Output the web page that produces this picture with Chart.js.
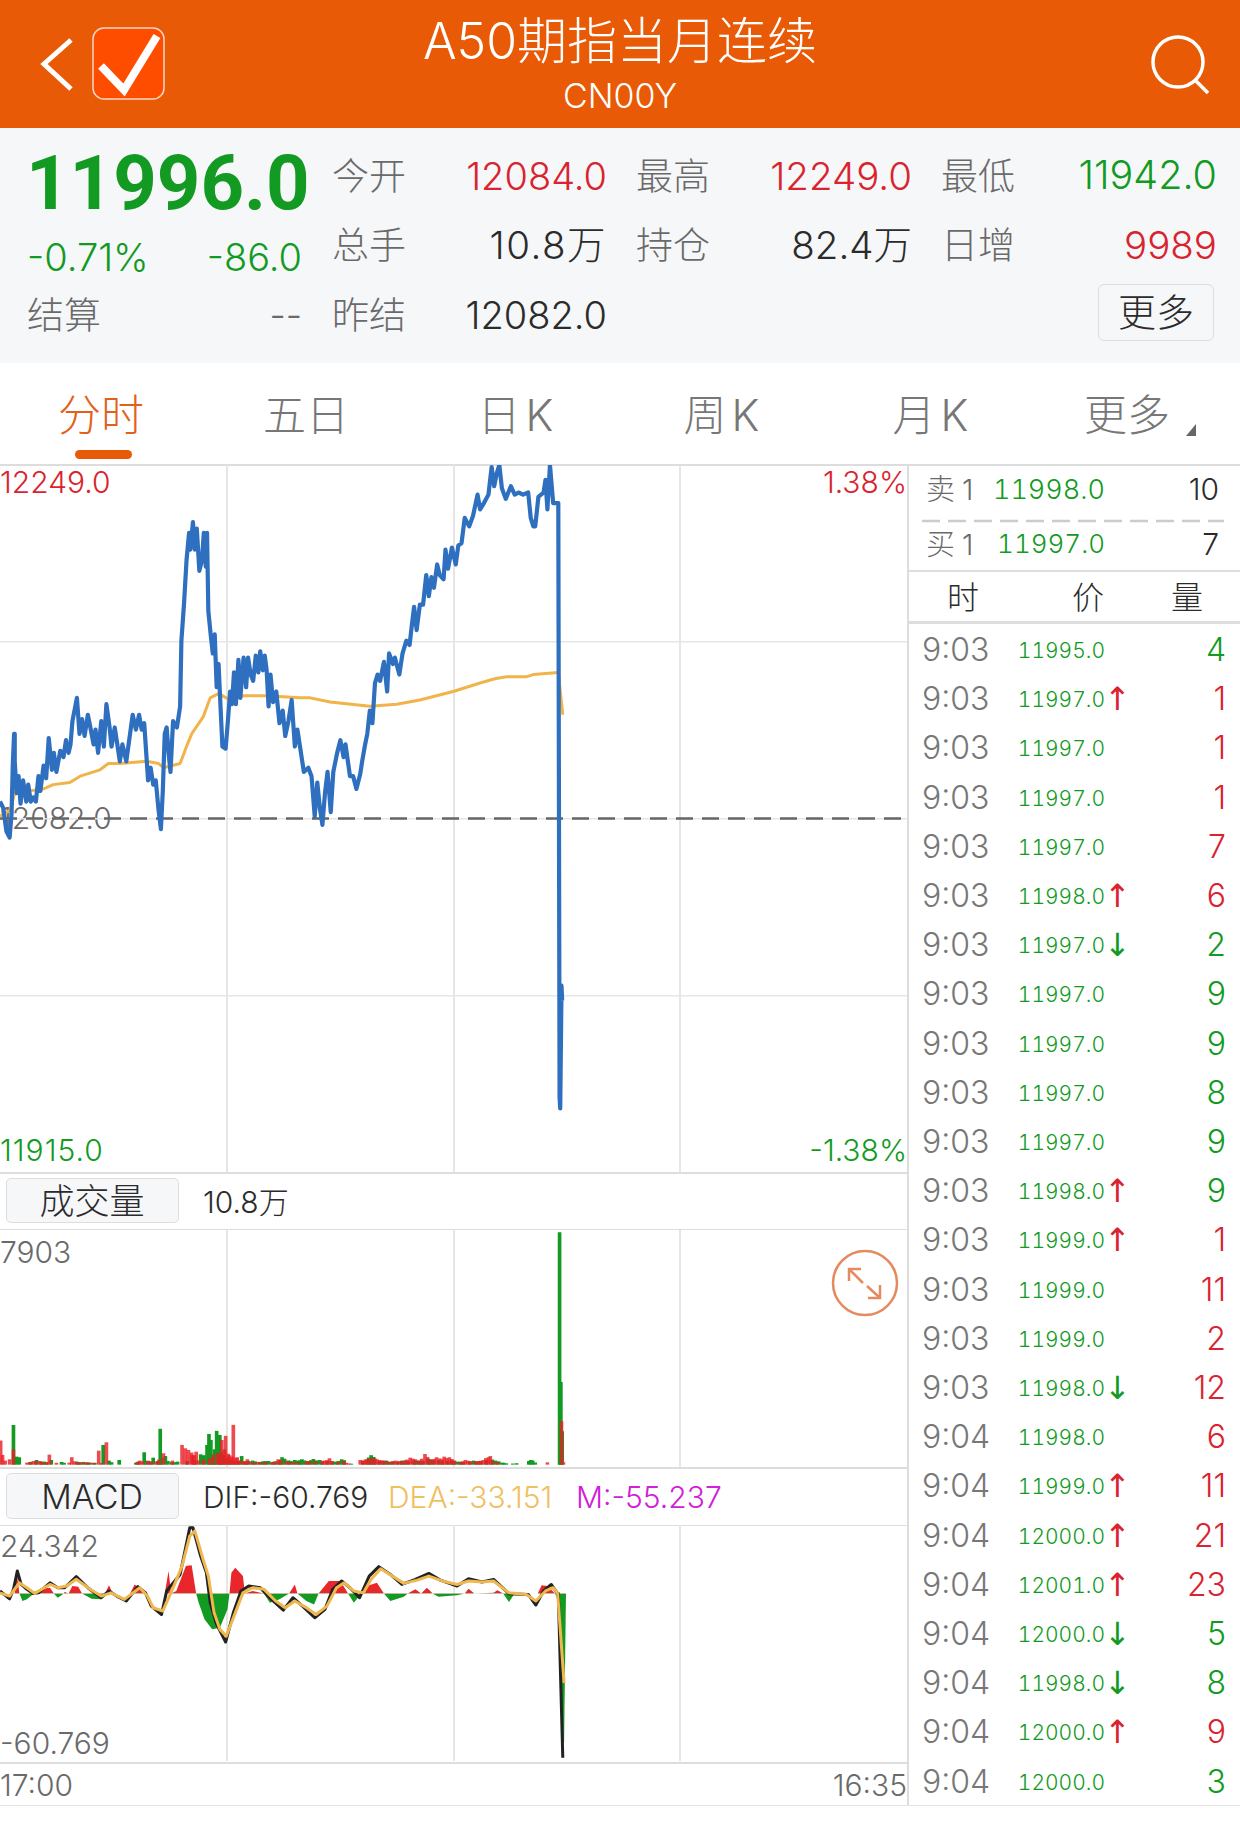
<!DOCTYPE html>
<html>
<head>
<meta charset="utf-8">
<title>A50期指当月连续</title>
<script src="https://cdn.jsdelivr.net/npm/chart.js@4/dist/chart.umd.min.js"></script>
<style>
  html, body { margin: 0; padding: 0; background: #fff; }
  #page { position: relative; width: 1240px; height: 1828px; overflow: hidden; background: #fff;
    font-family: Inter, "Noto Sans CJK SC", sans-serif; font-weight: 300; }
  #page span { position: absolute; white-space: nowrap; transform: translateY(-50%); line-height: 1; }
  .box { position: absolute; box-sizing: border-box; }
  canvas { position: absolute; display: block; }
  svg { position: absolute; left: 0; top: 0; }
</style>
</head>
<body>
<div id="page">
  <div class="box" style="left:0;top:0;width:1240px;height:128px;background:#E85A06"></div>
  <div class="box" style="left:0;top:128px;width:1240px;height:235px;background:#F6F7F9"></div>
  <div class="box" style="left:1098px;top:284px;width:116px;height:57px;border:1.5px solid #DDD;border-radius:6px"></div>
  <div class="box" style="left:75px;top:450px;width:57px;height:9px;background:#E85A06;border-radius:5px"></div>
  <div class="box" style="left:0;top:464px;width:1240px;height:2px;background:#DDD"></div>
  <div class="box" style="left:0;top:1172px;width:907px;height:2px;background:#DDD"></div>
  <div class="box" style="left:0;top:1229px;width:907px;height:1px;background:#DDD"></div>
  <div class="box" style="left:0;top:1467px;width:907px;height:2px;background:#DDD"></div>
  <div class="box" style="left:0;top:1525px;width:907px;height:1px;background:#DDD"></div>
  <div class="box" style="left:0;top:1762px;width:907px;height:2px;background:#DDD"></div>
  <div class="box" style="left:0;top:1805px;width:1240px;height:1px;background:#E4E4E4"></div>
  <div class="box" style="left:907px;top:465px;width:1.5px;height:1340px;background:#DDD"></div>
  <div class="box" style="left:908px;top:570px;width:332px;height:2px;background:#DDD"></div>
  <div class="box" style="left:908px;top:621px;width:332px;height:3px;background:#DDD"></div>
  <div class="box" style="left:6px;top:1178px;width:173px;height:45px;background:#F6F7F9;border:1.5px solid #DDD;border-radius:5px"></div>
  <div class="box" style="left:6px;top:1473px;width:173px;height:46px;background:#F6F7F9;border:1.5px solid #DDD;border-radius:5px"></div>
  <svg width="1240" height="1828" fill="none">
    <polyline points="71,40 44,64 71,89" stroke="#fff" stroke-width="5"/>
    <rect x="93" y="28" width="71" height="71" rx="11" fill="#FF4D00" stroke="#F8D8C4" stroke-width="1.5"/>
    <polyline points="101,66 124,90 157,36" stroke="#fff" stroke-width="8"/>
    <circle cx="1178" cy="62" r="25" stroke="#fff" stroke-width="3.5"/>
    <line x1="1195" y1="80" x2="1208" y2="93" stroke="#fff" stroke-width="3.5"/>
    <line x1="922" y1="521" x2="1224" y2="521" stroke="#CCC" stroke-width="2.5" stroke-dasharray="18 8"/>
    <polygon points="1186,436 1196,424 1196,436" fill="#666"/>
    <circle cx="865" cy="1283" r="32" stroke="#E58A5F" stroke-width="2.5" fill="#fff"/>
    <polyline points="849,1281 849,1269 861,1269" stroke="#E58A5F" stroke-width="2.5"/>
    <line x1="850" y1="1270" x2="863" y2="1283" stroke="#E58A5F" stroke-width="2.5"/>
    <polyline points="880,1285 880,1298 868,1298" stroke="#E58A5F" stroke-width="2.5"/>
    <line x1="879" y1="1297" x2="867" y2="1286" stroke="#E58A5F" stroke-width="2.5"/>
  </svg>
  <canvas id="priceChart" width="907" height="707" style="left:0;top:465px"></canvas>
  <canvas id="volumeChart" width="907" height="237" style="left:0;top:1230px"></canvas>
  <canvas id="macdChart" width="907" height="236" style="left:0;top:1525px"></canvas>
</div>
<script>
// minutes since 17:00, session is 17:00 -> 16:35
const SESSION_MINUTES = 1415;
const gridMinutes = [353.75, 707.5, 1061.25];
const priceGrid = [11998.5, 12082, 12165.5];
const PREV_SETTLE = 12082;

const priceMinutes = [0,5,10,15,18,20,22,23,26,29,32,36,41,44,48,52,56,60,63,68,72,76,81,84,88,94,99,103,107,110,113,120,124,128,132,137,141,146,149,153,158,162,166,171,174,179,183,187,191,197,202,207,212,217,221,225,229,231,235,239,243,247,251,254,257,260,263,266,270,276,281,283,287,291,295,297,301,304,307,311,315,318,321,323,325,329,332,335,338,341,344,347,352,355,359,362,365,368,372,375,380,384,387,391,395,399,403,406,410,413,416,419,422,426,431,436,441,445,450,455,460,464,468,474,481,486,491,495,499,503,507,511,516,520,526,531,536,539,546,551,556,562,565,569,573,577,581,585,589,593,599,604,607,613,616,623,628,634,639,642,646,650,655,660,665,669,673,677,682,686,692,695,699,705,711,715,720,725,732,738,745,749,755,762,767,771,775,779,783,789,797,803,809,816,824,828,832,835,840,848,851,854,858,863,871,873,874,876,877];
const priceValues = [12090,12087,12076,12073,12084,12108,12122,12109,12094,12102,12089,12100,12090,12098,12090,12092,12090,12102,12095,12107,12101,12120,12105,12113,12104,12114,12111,12119,12113,12117,12128,12139,12122,12129,12121,12131,12125,12117,12124,12113,12128,12116,12136,12125,12116,12125,12117,12109,12117,12109,12120,12131,12124,12131,12124,12127,12109,12100,12106,12098,12100,12087,12077,12095,12122,12125,12113,12104,12128,12125,12135,12166,12183,12204,12217,12209,12222,12209,12219,12199,12204,12217,12201,12217,12180,12168,12160,12169,12144,12155,12135,12116,12115,12126,12142,12136,12151,12136,12157,12139,12158,12144,12158,12150,12147,12159,12151,12161,12152,12159,12152,12135,12150,12137,12142,12127,12133,12121,12128,12138,12116,12124,12116,12104,12106,12102,12083,12099,12087,12079,12094,12104,12085,12104,12113,12119,12111,12117,12102,12102,12096,12103,12109,12116,12122,12133,12127,12146,12150,12147,12156,12142,12160,12155,12158,12150,12160,12166,12164,12172,12182,12171,12183,12183,12197,12187,12196,12191,12202,12197,12195,12209,12200,12210,12202,12211,12212,12224,12220,12225,12235,12228,12231,12235,12248,12239,12245,12249,12238,12233,12239,12235,12236,12235,12236,12224,12220,12220,12234,12236,12242,12228,12249,12231,12231,11950,11945,12003,11996];

const avgMinutes = [0,16,23,68,83,109,125,156,169,187,229,247,255,281,291,299,317,328,341,359,380,416,468,484,515,577,619,655,707,749,772,790,822,832,871,878];
const avgValues = [12083,12086,12094,12096,12098,12099,12102,12105,12108,12108,12109,12108,12106,12108,12116,12122,12130,12139,12141,12138,12140,12140,12139,12139,12137,12135,12136,12138,12142,12146,12148,12149,12149,12150,12151,12131];

const redVolMinutes = [1,4,8,15,21,42,46,52,56,62,66,73,77,88,108,112,116,122,127,134,138,146,154,158,166,214,218,222,231,236,244,248,255,269,284,289,294,299,300,303,306,310,318,327,333,340,343,346,350,352,356,358,362,364,368,370,374,380,382,386,392,398,403,409,415,424,428,434,438,447,452,458,466,478,483,492,503,507,510,514,518,527,536,540,544,562,566,570,572,576,581,585,588,592,596,600,606,612,617,622,626,632,635,640,644,648,654,658,663,667,672,677,681,686,690,693,697,701,705,709,718,722,726,730,734,742,746,750,754,758,762,765,769,776,854,876,879];
const redVolValues = [800,310,115,160,500,45,60,100,90,100,70,60,320,40,45,230,90,60,55,55,50,40,455,40,740,70,115,90,115,80,80,150,365,115,650,535,480,390,300,300,420,120,150,200,330,380,300,820,500,960,350,300,250,1335,200,230,120,100,80,160,60,50,70,40,60,50,80,160,130,100,60,60,60,80,100,100,110,115,130,195,100,60,100,40,20,135,120,150,160,180,200,190,160,130,120,110,80,90,115,100,90,130,150,215,180,160,120,180,340,240,150,170,230,190,160,250,200,230,170,120,60,90,135,110,90,80,100,110,135,200,230,270,100,60,55,1460,60];

const greenVolMinutes = [21,26,30,48,57,64,69,72,80,96,100,120,124,130,136,141,148,161,170,174,186,212,216,225,228,234,239,246,250,252,258,262,268,272,277,292,304,313,318,323,326,329,332,335,338,343,345,349,355,360,366,372,377,384,388,394,398,405,410,414,419,425,430,436,440,444,450,454,460,464,468,471,475,480,485,489,494,499,503,511,518,523,528,533,537,548,566,575,579,583,592,598,603,608,613,620,627,630,637,646,650,655,660,668,671,676,684,690,698,704,708,713,718,723,733,739,744,750,759,768,773,778,783,786,790,800,806,825,828,831,835,873,875,877];
const greenVolValues = [1330,250,230,70,135,80,80,60,135,70,40,80,60,70,50,45,40,650,115,60,135,40,80,400,100,90,215,100,1200,200,270,100,60,60,80,100,120,330,300,650,1025,820,250,500,1130,990,400,300,200,150,90,110,270,90,100,115,90,70,90,100,100,70,90,120,230,180,120,100,135,110,130,160,120,100,130,170,120,135,80,100,90,80,100,160,130,10,100,220,300,240,110,110,115,70,90,70,115,90,100,120,115,110,100,180,160,130,130,110,100,120,100,80,80,70,90,115,90,90,130,150,115,90,45,40,20,15,25,100,135,120,50,7903,2800,1117];

const difMinutes = [0,15,21,27,33,42,51,60,78,90,101,119,137,158,170,182,197,215,227,236,252,260,281,296,301,313,322,328,337,352,364,376,388,406,418,442,457,472,491,507,519,533,546,561,576,591,609,627,648,669,687,713,731,752,770,794,824,836,848,860,869,871,878];
const difValues = [0.9,-2,1.5,8.3,3.3,1.5,0,0.2,3.9,2.1,2.1,6.2,2.1,-1.6,0.9,-1,-2.8,2.5,0.2,-4.7,-7.8,0.9,7,24.3,24.3,13.8,7.6,-3.5,-10.9,-18,-7.2,0.9,2.7,2.1,-1,-6.2,-1.6,-4.7,-9,-5.9,1.5,4.6,2.1,-1.6,6.4,9.9,7,3.3,5.2,7.4,4.9,2.7,5.4,4.2,5.2,-0.1,-0.4,-4.3,0.9,3.3,0.2,0,-60.769];

const deaMinutes = [0,15,30,42,54,78,90,104,119,137,158,173,194,218,230,239,254,269,284,296,304,316,325,334,343,353,367,379,394,412,430,445,460,478,493,510,525,537,552,567,579,594,612,630,651,669,690,713,731,752,770,794,821,836,851,863,870,880];
const deaValues = [0.2,-1,3.9,2.1,0,3.3,2.1,2.7,5.2,2.1,-1,0.2,-2.2,2.1,-1,-5.3,-6.5,1.5,10.1,21.2,23.1,13.2,6.4,-7.2,-13.3,-15.8,-7.2,0.2,2.1,1.5,-2.8,-5.3,-2.8,-5.3,-7.8,-4.7,2.1,3.9,0.9,0.2,5.2,9.1,6.4,3.7,4.9,6.4,4.6,3.3,4.6,4.2,4.6,0.2,-0.4,-2.8,0.9,2.1,0,-33.151];

const mMinutes = [0,23,26,30,35,42,51,60,63,78,84,90,96,101,107,113,122,128,143,158,164,170,176,203,210,224,230,257,263,267,275,290,299,306,310,319,331,343,355,358,361,367,379,382,394,412,421,436,451,460,464,478,490,497,513,531,543,552,564,576,588,599,609,630,636,648,657,666,675,684,713,725,731,740,770,776,785,794,803,839,845,854,866,871,878,880,883];
const mValues = [0,0,8.3,0.2,-2.8,-2.2,-0.4,0,1.7,2.1,0,-1.6,-0.7,0.5,0,2.7,2.5,0,-2,-2.2,0,3,0,0,3.3,0.9,0,0,8.3,0,0.9,10.1,10.4,0,-3.5,-9.6,-13.3,-12.7,-5.9,0,7.6,9.5,6.4,0,0.9,0,-3.5,-2.2,0,3.3,0,-2.8,-4.1,0,4.6,4.6,0,-3.5,0,3,3.9,0,-2.8,-1.2,0,1.5,0,2.1,0,-1.2,-0.7,0,1.7,0,0.2,1.2,0,-3.2,0,0,3,2.7,0,-3,-55.237,-55.237,0];

const tradeTimes = ['9:03','9:03','9:03','9:03','9:03','9:03','9:03','9:03','9:03','9:03','9:03','9:03','9:03','9:03','9:03','9:03','9:04','9:04','9:04','9:04','9:04','9:04','9:04','9:04'];
const tradePrices = ['11995.0','11997.0','11997.0','11997.0','11997.0','11998.0','11997.0','11997.0','11997.0','11997.0','11997.0','11998.0','11999.0','11999.0','11999.0','11998.0','11998.0','11999.0','12000.0','12001.0','12000.0','11998.0','12000.0','12000.0'];
const tradeArrows = ['','↑','','','','↑','↓','','','','','↑','↑','','','↓','','↑','↑','↑','↓','↓','↑',''];
const tradeQtys = [4,1,1,1,7,6,2,9,9,8,9,9,1,11,2,12,6,11,21,23,5,8,9,3];
const tradeSides = ['g','r','r','r','r','r','g','g','g','g','g','g','r','r','r','r','r','r','r','r','g','g','r','g'];

const RED = '#D9232E';
const GREEN = '#129A22';
const GRAY = '#6A6A6A';
const DARK = '#2B2B2B';

const page = document.getElementById('page');
const label = (text, x, cy, size, color, align, weight) => {
  const el = document.createElement('span');
  el.textContent = text;
  if (align === 'right') el.style.right = (1240 - x) + 'px';
  else if (align === 'center') { el.style.left = x + 'px'; el.style.transform = 'translate(-50%,-50%)'; }
  else el.style.left = x + 'px';
  el.style.top = cy + 'px';
  el.style.fontSize = size + 'px';
  el.style.color = color;
  if (weight) el.style.fontWeight = weight;
  page.insertBefore(el, document.getElementById('priceChart'));
  return el;
};
const tabular = el => { el.style.fontVariantNumeric = 'tabular-nums'; return el; };

// header and quote block
label('A50期指当月连续', 620, 41, 50, '#FFF', 'center');
label('CN00Y', 620, 96, 34, '#FFF', 'center');
label('11996.0', 26, 183, 76, GREEN, 'left', 700).style.fontFamily = 'Roboto';
label('-0.71%', 27, 257, 38, GREEN);
label('-86.0', 302, 257, 38, GREEN, 'right');
label('结算', 27, 315, 37, GRAY);
label('--', 302, 315, 36, GRAY, 'right');
label('今开', 332, 176, 37, GRAY);
label('12084.0', 607, 176, 38, RED, 'right');
label('最高', 636, 176, 37, GRAY);
label('12249.0', 912, 176, 38.5, RED, 'right');
label('最低', 941, 176, 37, GRAY);
label('11942.0', 1217, 176, 39.5, GREEN, 'right');
label('总手', 332, 245, 37, GRAY);
label('10.8万', 607, 245, 38.5, DARK, 'right').style.letterSpacing = '1.5px';
label('持仓', 636, 245, 37, GRAY);
label('82.4万', 912, 245, 38.5, DARK, 'right');
label('日增', 941, 245, 37, GRAY);
label('9989', 1217, 245, 38.5, RED, 'right');
label('昨结', 332, 315, 37, GRAY);
label('12082.0', 607, 315, 38, DARK, 'right');
label('更多', 1156, 312, 38, DARK, 'center');

// tabs
label('分时', 101, 415, 43, '#E2611A', 'center');
label('五日', 306, 415, 43, '#777', 'center');
label('日K', 518, 415, 43, '#777', 'center').style.letterSpacing = '5px';
label('周K', 724, 415, 43, '#777', 'center').style.letterSpacing = '5px';
label('月K', 933, 415, 43, '#777', 'center').style.letterSpacing = '5px';
label('更多', 1127, 415, 43, '#777', 'center');

// chart side labels
label('12249.0', 0, 482, 30, RED);
label('12082.0', 0, 818, 30, GRAY);
label('11915.0', 0, 1150, 30, GREEN).style.letterSpacing = '1px';
label('1.38%', 907, 482, 30, RED, 'right');
label('-1.38%', 907, 1150, 30, GREEN, 'right');
label('成交量', 92, 1201, 35, DARK, 'center');
label('10.8万', 203, 1202, 30, DARK);
label('7903', 0, 1252, 30, GRAY);
label('MACD', 92, 1497, 34, DARK, 'center');
label('DIF:-60.769', 203, 1497, 30, DARK);
label('DEA:-33.151', 388, 1497, 30, '#F0C060');
label('M:-55.237', 576, 1497, 30, '#D020D8');
label('24.342', 0, 1546, 30, GRAY);
label('-60.769', 0, 1743, 30, GRAY);
label('17:00', 0, 1785, 30, GRAY);
label('16:35', 907, 1785, 30, GRAY, 'right');

// order book and trade list
label('卖', 926, 489, 29, GRAY);
label('1', 962, 489, 29, GRAY);
tabular(label('11998.0', 1105, 489, 27, GREEN, 'right'));
label('10', 1219, 489, 30, DARK, 'right');
label('买', 926, 544, 29, GRAY);
label('1', 962, 544, 29, GRAY);
tabular(label('11997.0', 1105, 544, 26, GREEN, 'right'));
label('7', 1219, 544, 30, DARK, 'right');
label('时', 963, 598, 32, DARK, 'center');
label('价', 1088, 598, 32, DARK, 'center');
label('量', 1187, 598, 32, DARK, 'center');
tradeTimes.forEach((t, i) => {
  const cy = 650 + i * 49.2;
  const sideColor = tradeSides[i] === 'r' ? RED : GREEN;
  label(t, 922, cy, 32, '#777');
  tabular(label(tradePrices[i], 1105, cy, 21, GREEN, 'right'));
  if (tradeArrows[i]) {
    label(tradeArrows[i], 1104, cy, 32, tradeArrows[i] === '↑' ? RED : GREEN, 'left', 400).style.fontFamily = '"DejaVu Sans"';
  }
  label(String(tradeQtys[i]), 1226, cy, 32, sideColor, 'right');
});

const points = (xs, ys) => xs.map((x, i) => ({x: x, y: ys[i]}));

const xAxis = {
  type: 'linear',
  min: 0,
  max: SESSION_MINUTES,
  offset: false,
  afterBuildTicks: axis => { axis.ticks = gridMinutes.map(v => ({value: v})); },
  ticks: {display: false},
  border: {display: false},
  grid: {color: '#E6E6E6', lineWidth: 2, drawTicks: false, offset: false}
};
const baseOptions = {
  responsive: false,
  animation: false,
  events: [],
  layout: {padding: 0},
  plugins: {legend: {display: false}, tooltip: {enabled: false}},
  elements: {point: {radius: 0}, line: {tension: 0, borderJoinStyle: 'round'}}
};
const yAxis = (min, max) => ({
  min: min,
  max: max,
  ticks: {display: false},
  border: {display: false},
  grid: {display: false, drawTicks: false}
});

// first dataset is drawn on top
new Chart(document.getElementById('priceChart'), {
  type: 'line',
  data: {
    datasets: [
      {data: points(priceMinutes, priceValues), borderColor: '#2E6FBF', borderWidth: 4.2},
      {data: points(avgMinutes, avgValues), borderColor: '#F0B44A', borderWidth: 3},
      {
        data: points([0, SESSION_MINUTES], [PREV_SETTLE, PREV_SETTLE]),
        borderColor: '#666',
        borderWidth: 2.5,
        borderDash: [17, 9]
      }
    ]
  },
  options: {
    ...baseOptions,
    scales: {
      x: xAxis,
      y: {
        ...yAxis(11915, 12249),
        afterBuildTicks: axis => { axis.ticks = priceGrid.map(v => ({value: v})); },
        grid: {display: true, color: '#E6E6E6', lineWidth: 1.5, drawTicks: false}
      }
    }
  }
});

new Chart(document.getElementById('volumeChart'), {
  type: 'bar',
  data: {
    datasets: [
      {data: points(redVolMinutes, redVolValues), backgroundColor: 'rgba(232,30,38,0.8)', barThickness: 3, grouped: false},
      {data: points(greenVolMinutes, greenVolValues), backgroundColor: '#129A22', barThickness: 3, grouped: false}
    ]
  },
  options: {
    ...baseOptions,
    scales: {x: xAxis, y: yAxis(-92, 7995)}
  }
});

new Chart(document.getElementById('macdChart'), {
  type: 'line',
  data: {
    datasets: [
      {data: points(deaMinutes, deaValues), borderColor: '#EFB84F', borderWidth: 3},
      {data: points(difMinutes, difValues), borderColor: '#222', borderWidth: 3},
      {
        data: points(mMinutes, mValues),
        borderWidth: 0,
        fill: {target: {value: 0}, above: '#E9262B', below: '#129A22'}
      }
    ]
  },
  options: {
    ...baseOptions,
    scales: {x: xAxis, y: yAxis(-62, 25.3)}
  }
});
</script>
</body>
</html>
